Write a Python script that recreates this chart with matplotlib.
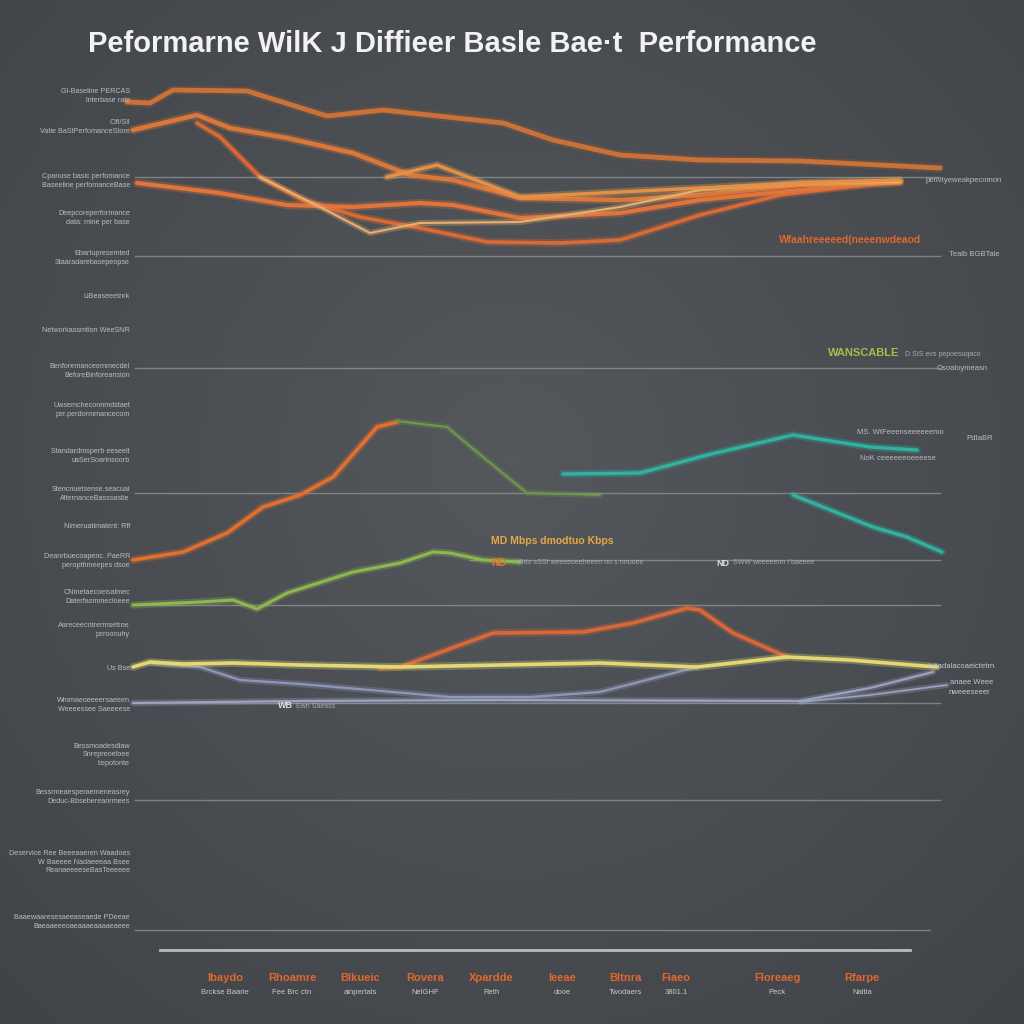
import matplotlib
matplotlib.use("Agg")
import matplotlib.pyplot as plt
import matplotlib.patheffects as pe
import numpy as np

# Заголовок
title = "Peformarne WilK J Diffieer Basle Bae\u00b7t  Performance"

# Линии (x, y в координатах картинки)
top_x = [127, 150, 173, 247, 327, 383, 503, 553, 620, 700, 800, 940]
top_y = [102, 103, 90, 91, 116, 110, 123, 140, 155, 160, 161, 168]

b2_x = [133, 197, 230, 287, 353, 410, 453, 520, 620, 700, 800, 900]
b2_y = [130, 115, 128, 138, 153, 175, 180, 198, 200, 195, 185, 182]

b3_x = [197, 220, 260, 303, 360, 420, 487, 560, 620, 700, 780, 860]
b3_y = [123, 137, 177, 200, 217, 228, 242, 243, 240, 215, 195, 185]

b4_x = [137, 220, 287, 353, 420, 453, 520, 620, 700, 800, 900]
b4_y = [183, 193, 205, 207, 203, 205, 218, 213, 200, 190, 182]

b5_x = [260, 320, 370, 420, 520, 620, 700, 800, 900]
b5_y = [177, 207, 233, 223, 222, 207, 190, 183, 182]

b6_x = [387, 437, 520, 620, 700, 800, 900]
b6_y = [177, 165, 197, 192, 188, 183, 180]

org_x = [133, 183, 227, 263, 300, 333, 377, 397]
org_y = [560, 552, 533, 507, 495, 477, 427, 422]

grn1_x = [397, 447, 483, 527, 600]
grn1_y = [421, 427, 457, 493, 495]

grn2_x = [133, 200, 233, 257, 287, 353, 400, 433, 450, 483, 520]
grn2_y = [605, 602, 600, 609, 593, 572, 563, 552, 553, 560, 562]

teal1_x = [563, 640, 707, 793, 870, 917]
teal1_y = [474, 473, 455, 435, 447, 450]

teal2_x = [793, 873, 907, 942]
teal2_y = [495, 527, 537, 552]

org2_x = [380, 400, 493, 583, 633, 687, 700, 733, 787]
org2_y = [668, 667, 633, 632, 623, 608, 610, 633, 657]

yel_x = [133, 150, 183, 233, 300, 400, 600, 697, 787, 850, 937]
yel_y = [667, 662, 664, 663, 665, 667, 663, 667, 657, 660, 667]

blu1_x = [150, 200, 240, 300, 370, 450, 530, 600, 697]
blu1_y = [663, 667, 680, 684, 690, 697, 697, 692, 667]

blu2_x = [133, 300, 500, 800, 870, 933]
blu2_y = [703, 701, 700, 701, 688, 672]

blu3_x = [800, 870, 947]
blu3_y = [702, 695, 685]

# Сетка
grid_y = [177, 256, 368, 493, 560, 605, 703, 800, 930]
grid_x0 = [135, 135, 135, 135, 470, 135, 135, 135, 135]
grid_x1 = [940, 940, 940, 940, 940, 940, 940, 940, 930]

# Подписи слева
left_y = [96, 127, 181, 218, 258, 297, 331, 371, 410, 456, 494, 527, 561, 597,
          630, 668, 705, 755, 797, 862, 922]
left_txt = [
    "Gl-Baseline PERCAS\nlnterbase rate",
    "Clfl/Sll\nVatie BaStPerfomanceStore",
    "Cpanuse basic perfomance\nBaseeline perfomanceBase",
    "Deepcoreperformance\ndata: mine per base",
    "Ebartupresemted\nStaaradarebasepeopse",
    "LiBeaseeetnrk",
    "Networkassmtion WeeSNR",
    "Benforemanceemmecdel\nBeforeBinforeansion",
    "Uwsemcheconnmdstaet\nper.perdormmancecom",
    "Standardmsperb eeseelt\nuaSerSoarinsoorb",
    "Stencnuetsense.seacuai\nAlternanceBasssastie",
    "Nimeruatimatent: Rff",
    "Deanrbuecoapenc. PaeRR\nperopthmeepes dsoe",
    "CNmetaecoeisalmec\nDaterfasmmecloeee",
    "Aareceecotrermsetroe\nperooouhy",
    "Us Bse",
    "Wmmaeoeeeersaeeen\nWeeeessee Saeeeese",
    "Bessmoadesdlaw\nSnrepreoeloee\nbepotonte",
    "Bessrmeaesperaemeneasrey\nDeduc-Bbsebereanrmees",
    "Deservice Ree Beeeaaeren Waadoes\nW Baeeee Nadaeeeaa Bsee\nReanaeeeeseBasTeeeeee",
    "Baaewaaresesaeeaseaede PDeeae\nBaeaaeeeoaeaaaeaaaaeaeee",
]

# Подписи по оси X
bot_x = [225, 292, 360, 425, 491, 562, 625, 676, 777, 862]
bot_top = ["Ibaydo", "Rhoamre", "Blkueic", "Rovera", "Xpardde",
           "Ieeae", "Bltnra", "Fiaeo", "Floreaeg", "Rfarpe"]
bot_sub = ["Brckse Baarie", "Fee Brc ctn", "ainpertals", "NelGHF", "Reth",
           "dooe", "Twodaers", "3801.1", "Peck", "Naltia"]

BG = "#4b4e53"
fig = plt.figure(figsize=(10.24, 10.24), dpi=100, facecolor=BG)
ax = fig.add_axes([0, 0, 1, 1])
ax.set_xlim(0, 1024)
ax.set_ylim(1024, 0)
ax.axis("off")

# фон с виньеткой
yy, xx = np.mgrid[0:1:200j, 0:1:200j]
r = np.sqrt((xx - 0.5) ** 2 + (yy - 0.45) ** 2)
ax.imshow(-r, extent=(0, 1024, 1024, 0), cmap=matplotlib.colors.LinearSegmentedColormap.from_list(
    "bg", ["#404348", "#54575c"]), aspect="auto", zorder=0)

fig.text(0.0859, 0.957, title, color="#f2f2f2", fontsize=21, fontweight="bold",
         family="Liberation Sans", va="center", ha="left")

for gy, a, b in zip(grid_y, grid_x0, grid_x1):
    ax.plot([a, b], [gy, gy], color="#8d9196", lw=1.0, alpha=0.8, zorder=1)
ax.plot([160, 910], [950, 950], color="#c5c8cc", lw=2.0, alpha=0.9, zorder=1)


def glow(x, y, c, lw=2.4, glowc=None, a=1.0):
    ax.plot(x, y, color=c, lw=lw, alpha=a, solid_capstyle="round", solid_joinstyle="round", zorder=3,
            path_effects=[pe.Stroke(linewidth=lw + 3, foreground=glowc or c, alpha=0.3), pe.Normal()])


glow(top_x, top_y, "#c8723a", lw=3.5, glowc="#9a5a30")
glow(b2_x, b2_y, "#d9783a", lw=3.2)
glow(b3_x, b3_y, "#d96a35", lw=2.6)
glow(b4_x, b4_y, "#e0743a", lw=3.0)
glow(b5_x, b5_y, "#e8b070", lw=1.5)
glow(b6_x, b6_y, "#e98f42", lw=2.4, glowc="#e8b060")

glow(org_x, org_y, "#e0702f", lw=2.6)
glow(grn1_x, grn1_y, "#6f9a4a", lw=1.4)
glow(grn2_x, grn2_y, "#8cb850", lw=2.2)
glow(teal1_x, teal1_y, "#2fb3a0", lw=2.4)
glow(teal2_x, teal2_y, "#2fb3a0", lw=2.4)
glow(org2_x, org2_y, "#d8683a", lw=2.6)
glow(blu1_x, blu1_y, "#8d97b8", lw=1.6)
glow(blu2_x, blu2_y, "#9aa3c0", lw=1.6)
glow(blu3_x, blu3_y, "#9aa3c0", lw=1.2)
glow(yel_x, yel_y, "#e3d873", lw=2.6)

LF = "Liberation Sans"
for y, t in zip(left_y, left_txt):
    ax.text(130, y, t, color="#b9bdc3", fontsize=5.2, ha="right", va="center",
            family=LF, linespacing=1.35, zorder=4)

for x, t1, t2 in zip(bot_x, bot_top, bot_sub):
    ax.text(x, 978, t1, color="#e2672c", fontsize=8, fontweight="bold", ha="center", va="center",
            family=LF)
    ax.text(x, 992, t2, color="#c6c9cd", fontsize=5.5, ha="center", va="center", family=LF)

# подписи справа / внутри
ax.text(1002, 181, "perivtyeweakpecnmon", color="#b9bdc3", fontsize=5.5, ha="right", va="center", family=LF)
ax.text(1000, 255, "Tealb BGBTale", color="#b9bdc3", fontsize=5.5, ha="right", va="center", family=LF)
ax.text(921, 240, "Wfaahreeeeed(neeenwdeaod", color="#e0672e", fontsize=7.5, fontweight="bold",
        ha="right", va="center", family=LF)
ax.text(828, 353, "WANSCABLE", color="#a2c04a", fontsize=8, fontweight="bold", ha="left", va="center",
        family=LF)
ax.text(905, 354, "D SIS evs pepoesuqaco", color="#a7abb0", fontsize=5, ha="left", va="center", family=LF)
ax.text(988, 369, "Osoaloymeasn", color="#b9bdc3", fontsize=5.5, ha="right", va="center", family=LF)
ax.text(857, 432, "MS. WtFeeenseeeeeemo", color="#b9bdc3", fontsize=5.5, ha="left", va="center", family=LF)
ax.text(860, 458, "NoK ceeeeeeoeeeese", color="#b9bdc3", fontsize=5.5, ha="left", va="center", family=LF)
ax.text(993, 439, "PdtaBR", color="#b9bdc3", fontsize=5.5, ha="right", va="center", family=LF)
ax.text(491, 541, "MD Mbps dmodtuo Kbps", color="#e6a845", fontsize=7.5, fontweight="bold", ha="left",
        va="center", family=LF)
ax.text(491, 563, "ND", color="#e0762f", fontsize=7.5, fontweight="bold", ha="left", va="center", family=LF)
ax.text(517, 563, "Wdo sSSt weeeeoeeheeen no s nnuoee", color="#a7abb0", fontsize=5, ha="left",
        va="center", family=LF)
ax.text(716, 563, "ND", color="#dcdfe2", fontsize=6.5, fontweight="bold", ha="left", va="center", family=LF)
ax.text(733, 563, "SWW weeeeenn i baeeee", color="#a7abb0", fontsize=5, ha="left", va="center", family=LF)
ax.text(278, 706, "WB", color="#dcdfe2", fontsize=6.5, fontweight="bold", ha="left", va="center", family=LF)
ax.text(296, 706, "Ewn Saeass", color="#a7abb0", fontsize=5, ha="left", va="center", family=LF)
ax.text(995, 667, "Inhadalacoaeictetrn", color="#c5c8cc", fontsize=5.5, ha="right", va="center", family=LF)
ax.text(993, 682, "anaee Weee", color="#c5c8cc", fontsize=5.5, ha="right", va="center", family=LF)
ax.text(990, 692, "nweeeseeer", color="#c5c8cc", fontsize=5.5, ha="right", va="center", family=LF)

fig.savefig("out.png", dpi=100, facecolor=BG)
